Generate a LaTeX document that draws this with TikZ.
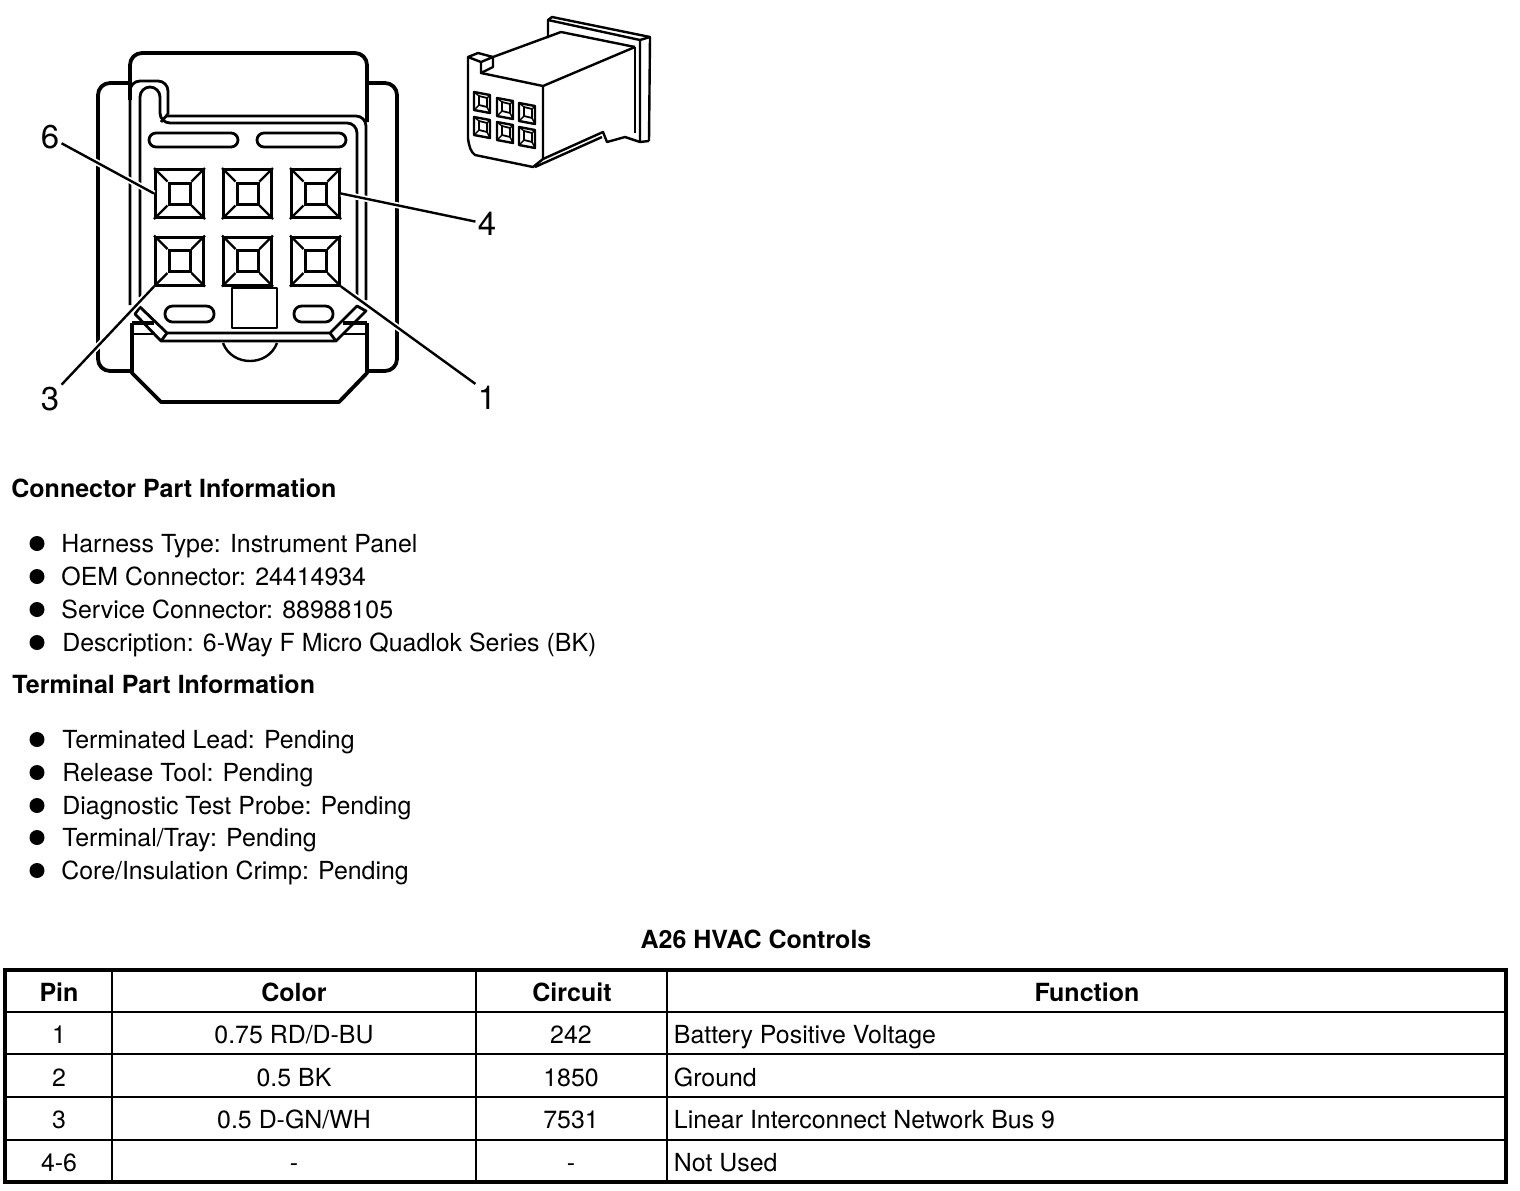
\documentclass[tikz,border=0pt]{standalone}
\usepackage{fontspec}
\setmainfont{TeX Gyre Heros}
\tikzset{
    heavyline/.style = {line width=1.9pt, line join=round},
    midline/.style = {line width=1.4pt, line join=round},
    thinline/.style = {line width=1.2pt},
    leaderline/.style = {line width=1.2pt, preaction={draw=white, line width=3pt}},
    pinbox/.style = {draw, line width=1.5pt, rectangle, minimum size=24pt, inner sep=0pt},
    holebox/.style = {draw, line width=1.5pt, rectangle, minimum size=10.5pt, inner sep=0pt},
    callout/.style = {font=\fontsize{16.5pt}{18pt}\selectfont, inner sep=1pt},
    bodytext/.style = {font=\fontsize{12.45pt}{14pt}\selectfont, anchor=base west, inner sep=0pt},
    headtext/.style = {font=\fontsize{12.5pt}{14pt}\selectfont\bfseries, anchor=base west, inner sep=0pt},
    celltext/.style = {font=\fontsize{12.45pt}{14pt}\selectfont, anchor=base, inner sep=0pt},
    cellhead/.style = {font=\fontsize{12.5pt}{14pt}\selectfont\bfseries, anchor=base, inner sep=0pt},
    bulletdot/.style = {circle, fill=black, minimum size=7.5pt, inner sep=0pt}
}
\begin{document}
\begin{tikzpicture}[x=0.5pt,y=-0.5pt]
    \useasboundingbox (0,0) rectangle (1520,1190);
    \fill[white] (0,0) rectangle (1520,1190);

    \draw[heavyline, rounded corners=6pt] (130,100) -- (130,53) -- (367,53) -- (367,122);
    \draw[heavyline, rounded corners=6pt] (130,83) -- (98,83) -- (98,371) -- (132,371);
    \draw[heavyline, rounded corners=6pt] (367,83) -- (397,83) -- (397,371) -- (367,371);
    \draw[heavyline] (132,323) -- (154,323);
    \draw[heavyline] (343,323) -- (367,323);
    \draw[heavyline] (132,323) -- (132,373) -- (161,402) -- (339,402) -- (367,373) -- (367,323);
    \draw[midline] (132,334) -- (155,334);
    \draw[midline] (343,334) -- (367,334);

    \draw[midline, rounded corners=5pt] (130,305) -- (130,81) -- (168,81) -- (168,114);
    \draw[midline] (168,114) -- (161,122);
    \draw[midline, rounded corners=5pt] (166,116) -- (366,116) -- (366,300);
    \draw[midline, rounded corners=5pt] (140,297) -- (140,87) -- (160,87) -- (160,123) -- (357,123) -- (357,300);

    \draw[midline, rounded corners=3.5pt] (149,133) rectangle (238,147);
    \draw[midline, rounded corners=3.5pt] (257,133) rectangle (346,147);
    \draw[midline, rounded corners=3.8pt] (165,306) rectangle (214,322);
    \draw[midline, rounded corners=3.8pt] (294,306) rectangle (333,322);
    \draw[midline] (232,288) rectangle (277,328);

    \draw[midline] (135,314) -- (161,341) -- (336,341) -- (366,311) -- (357,306) -- (330,333) -- (167,333) -- (140,307) -- cycle;
    \draw[midline] (167,333) -- (161,341);
    \draw[midline] (330,333) -- (336,341);
    \draw[thinline] (223,343) .. controls (232,367) and (268,367) .. (277,343);

    \foreach \name/\x/\y in {6/179.5/193.5, 5/247.5/193.5, 4/315.5/193.5, 3/179.5/261, 2/247.5/261, 1/315.5/261} {
        \node[pinbox] (pin\name) at (\x,\y) {};
        \node[holebox] (hole\name) at (\x,\y) {};
        \foreach \corner in {north west, north east, south west, south east} {
            \draw[thinline] (pin\name.\corner) -- (hole\name.\corner);
        }
    }

    \node[callout] (lab6) at (50,137) {6};
    \node[callout] (lab4) at (487,224) {4};
    \node[callout] (lab3) at (50,399) {3};
    \node[callout] (lab1) at (487,398) {1};
    \draw[leaderline] (lab6) -- (pin6.west);
    \draw[leaderline] (lab4) -- (pin4.east);
    \draw[leaderline] (lab3.north east) -- (pin3.south west);
    \draw[leaderline] (lab1.north west) -- (pin1.south east);

    \begin{scope}[thinline, line join=round]
        \draw (468,57) -- (478,53) -- (493,57) -- (481,62) -- cycle;
        \draw (481,62) -- (481,73) -- (493,67) -- (493,57);
        \draw (493,57) -- (561,32) -- (635,47);
        \draw (481,73) -- (543,86) -- (635,47);
        \draw (468,57) -- (468,138) .. controls (469,147) and (471,152) .. (475,155) -- (533,167) -- (543,159) -- (543,86);
        \draw (543,159) -- (603,132) -- (607,142) -- (625,137) -- (640,142) -- (649,141);
        \draw (535,167) -- (602,137);
        \draw (548,38) -- (548,20) -- (552,17) -- (650,37) -- (649,141);
        \draw (548,20) -- (640,40) -- (640,142);
        \draw (650,37) -- (640,40);
        \draw (635,47) -- (635,133);
        \foreach \x/\y in {474/92, 497/98, 519/103, 474/117, 497/122, 519/127} {
            \begin{scope}[shift={(\x,\y)}]
                \draw[line width=1.2pt] (0,0) -- (16,3) -- (16,21) -- (0,18) -- cycle;
                \draw[line width=0.9pt] (5,4) -- (13,6) -- (13,15) -- (5,13) -- cycle;
                \draw[line width=0.7pt] (0,0) -- (5,4) (16,3) -- (13,6) (16,21) -- (13,15) (0,18) -- (5,13);
            \end{scope}
        }
    \end{scope}

    \node[headtext] (head1) at (11,497) {Connector Part Information};
    \foreach \item/\x/\y/\txt in {a/61/552/{Harness Type: Instrument Panel},
                                  b/61/585/{OEM Connector: 24414934},
                                  c/61/618/{Service Connector: 88988105},
                                  d/62/651/{Description: 6-Way F Micro Quadlok Series (BK)},
                                  e/62/748/{Terminated Lead: Pending},
                                  f/62/781/{Release Tool: Pending},
                                  g/62/814/{Diagnostic Test Probe: Pending},
                                  h/62/846/{Terminal/Tray: Pending},
                                  i/61/879/{Core/Insulation Crimp: Pending}} {
        \node[bodytext] (text\item) at (\x,\y) {\txt};
        \node[bulletdot] (dot\item) at (37,\y-8.5) {};
    }
    \node[headtext] (head2) at (12,693) {Terminal Part Information};
    \node[cellhead] (title) at (756,948) {A26 HVAC Controls};

    \draw[line width=1.9pt] (5,970) rectangle (1506,1182);
    \foreach \y in {1012,1054,1097,1140} {
        \draw[line width=1.1pt] (5,\y) -- (1506,\y);
    }
    \foreach \x in {112,476,667} {
        \draw[line width=0.7pt] (\x,970) -- (\x,1182);
    }

    \node[cellhead] (hpin) at (59,1001) {Pin};
    \node[cellhead] (hcolor) at (294,1001) {Color};
    \node[cellhead] (hcircuit) at (572,1001) {Circuit};
    \node[cellhead] (hfunction) at (1087,1001) {Function};
    \foreach \row/\y/\pinno/\wire/\circuit/\function in {1/1043/1/{0.75 RD/D-BU}/242/{Battery Positive Voltage},
                                                         2/1086/2/{0.5 BK}/1850/{Ground},
                                                         3/1128/3/{0.5 D-GN/WH}/7531/{Linear Interconnect Network Bus 9},
                                                         4/1171/4-6/-/-/{Not Used}} {
        \node[celltext] (pin-\row) at (59,\y) {\pinno};
        \node[celltext] (wire-\row) at (294,\y) {\wire};
        \node[celltext] (circuit-\row) at (571,\y) {\circuit};
        \node[bodytext] (function-\row) at (673.5,\y) {\function};
    }
\end{tikzpicture}
\end{document}
